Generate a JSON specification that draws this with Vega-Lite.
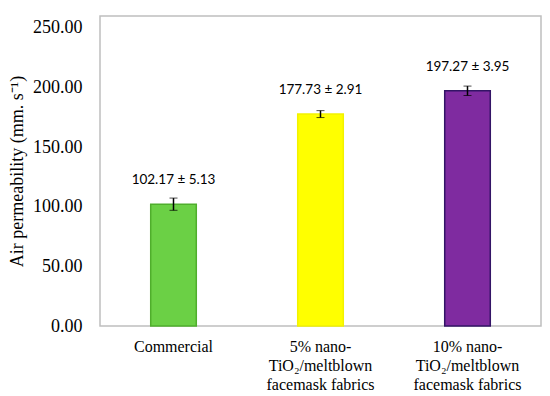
{
  "$schema": "https://vega.github.io/schema/vega-lite/v6.json",
  "width": 441,
  "height": 310,
  "autosize": {"type": "none"},
  "padding": {"left": 100, "top": 16, "right": 9, "bottom": 70},
  "background": "white",
  "config": {
    "view": {"stroke": "#BFBFBF", "strokeWidth": 1.5},
    "axis": {"grid": false, "domain": false, "ticks": false, "labelFont": "Liberation Serif", "titleFont": "Liberation Serif"},
    "axisY": {
      "labelFont": "Liberation Serif",
      "labelFontSize": 18,
      "labelColor": "#000000",
      "labelPadding": 18,
      "titleFont": "Liberation Serif",
      "titleFontSize": 18,
      "titleFontWeight": "normal",
      "titleColor": "#000000",
      "titlePadding": 6
    },
    "axisX": {
      "labelFont": "Liberation Serif",
      "labelFontSize": 16,
      "labelColor": "#000000",
      "labelPadding": 12,
      "labelLineHeight": 19
    }
  },
  "data": {
    "values": [
      {"sample": "Commercial", "mean": 102.17, "sd": 5.13, "label": "102.17 ± 5.13"},
      {"sample": "5% nano-|TiO₂/meltblown|facemask  fabrics", "mean": 177.73, "sd": 2.91, "label": "177.73 ± 2.91"},
      {"sample": "10% nano-|TiO₂/meltblown|facemask  fabrics", "mean": 197.27, "sd": 3.95, "label": "197.27 ± 3.95"}
    ]
  },
  "encoding": {
    "x": {
      "field": "sample",
      "type": "nominal",
      "sort": null,
      "scale": {"paddingInner": 0.69, "paddingOuter": 0.345},
      "axis": {
        "title": null,
        "labelAngle": 0,
        "labelExpr": "split(datum.label, '|')"
      }
    }
  },
  "layer": [
    {
      "mark": {"type": "bar", "strokeWidth": 1.5},
      "encoding": {
        "y": {
          "field": "mean",
          "type": "quantitative",
          "title": "Air permeability (mm. s⁻¹)",
          "scale": {"domain": [0, 250]},
          "axis": {
            "values": [0, 50, 100, 150, 200, 250],
            "format": ".2f"
          }
        },
        "fill": {
          "field": "sample",
          "type": "nominal",
          "sort": null,
          "scale": {"range": ["#6BD045", "#FFFF00", "#7F2BA0"]},
          "legend": null
        },
        "stroke": {
          "field": "sample",
          "type": "nominal",
          "sort": null,
          "scale": {"range": ["#4FAE2C", "#F2F200", "#331466"]},
          "legend": null
        }
      }
    },
    {
      "mark": {"type": "errorbar", "ticks": {"size": 8, "color": "#000000", "strokeWidth": 1.5}, "rule": {"color": "#000000", "strokeWidth": 1.5}},
      "encoding": {
        "y": {"field": "mean", "type": "quantitative", "title": "Air permeability (mm. s⁻¹)", "axis": {"values": [0, 50, 100, 150, 200, 250], "format": ".2f"}},
        "yError": {"field": "sd"}
      }
    },
    {
      "mark": {"type": "text", "dy": -24, "font": "Lato", "fontSize": 13.5, "color": "#000000", "baseline": "middle"},
      "encoding": {
        "y": {"field": "mean", "type": "quantitative", "title": "Air permeability (mm. s⁻¹)", "axis": {"values": [0, 50, 100, 150, 200, 250], "format": ".2f"}},
        "text": {"field": "label"}
      }
    }
  ]
}
